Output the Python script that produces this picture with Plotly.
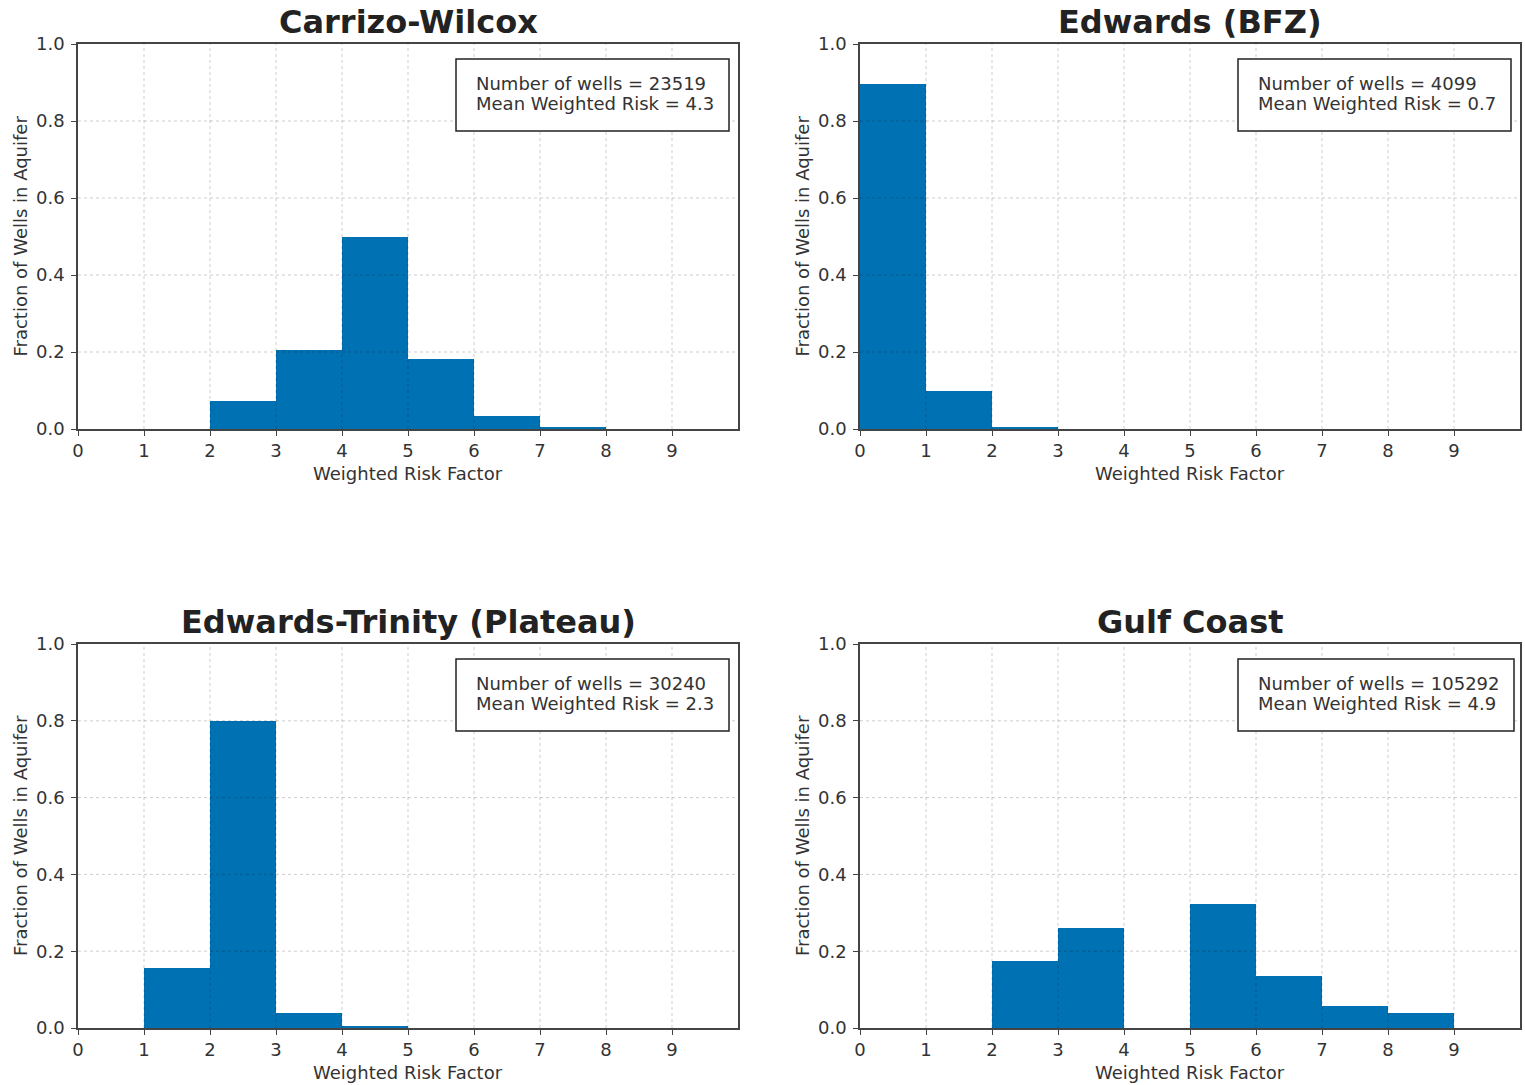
import plotly.graph_objects as go

# ---------------- data ----------------
bin_edges = [0, 1, 2, 3, 4, 5, 6, 7, 8, 9, 10]
x_ticks = [0, 1, 2, 3, 4, 5, 6, 7, 8, 9]
y_ticks = [0.0, 0.2, 0.4, 0.6, 0.8, 1.0]

aquifers = ["Carrizo-Wilcox", "Edwards (BFZ)", "Edwards-Trinity (Plateau)", "Gulf Coast"]
n_wells = [23519, 4099, 30240, 105292]
mean_risk = [4.3, 0.7, 2.3, 4.9]

carrizo_wilcox = [0.0, 0.0, 0.073, 0.205, 0.499, 0.182, 0.033, 0.006, 0.0, 0.0]
edwards_bfz = [0.895, 0.099, 0.004, 0.0, 0.0, 0.0, 0.0, 0.0, 0.0, 0.0]
edwards_trinity = [0.0, 0.155, 0.799, 0.038, 0.004, 0.0, 0.0, 0.0, 0.0, 0.0]
gulf_coast = [0.0, 0.0, 0.174, 0.261, 0.0, 0.324, 0.136, 0.057, 0.040, 0.0]

fractions = [carrizo_wilcox, edwards_bfz, edwards_trinity, gulf_coast]

# ---------------- layout constants ----------------
W, H = 1525, 1085
PW = 660
panels = [(78, 44, 385), (860, 44, 385), (78, 644, 384), (860, 644, 384)]  # left, top, height px
box_right = [651, 651, 651, 654]  # stats-box right edge inside panel (px)
BOX_LEFT, BOX_TOP, BOX_BOTTOM = 378, 15, 87
TEXT_LEFT, LINE1, LINE2 = 396, 39, 59
BAR_COLOR = "#0071b2"
FONT = "DejaVu Sans"
TEXT = "#333333"
AXIS = "#444444"
GRID = "rgba(0,0,0,0.2)"

fig = go.Figure()

centers = [(a + b) / 2 for a, b in zip(bin_edges[:-1], bin_edges[1:])]
widths = [b - a for a, b in zip(bin_edges[:-1], bin_edges[1:])]

layout = dict(
    template="none",
    width=W, height=H,
    margin=dict(l=0, r=0, t=0, b=0, pad=0, autoexpand=False),
    paper_bgcolor="white", plot_bgcolor="white",
    showlegend=False, bargap=0,
    font=dict(family=FONT, color=TEXT, size=18),
)
annotations = []
shapes = []

for i, (name, vals) in enumerate(zip(aquifers, fractions)):
    k = "" if i == 0 else str(i + 1)
    left, top, ph = panels[i]
    fig.add_trace(go.Bar(
        x=centers, y=vals, width=widths,
        marker=dict(color=BAR_COLOR, line=dict(width=0)),
        xaxis="x" + k, yaxis="y" + k,
    ))
    xd = [left / W, (left + PW) / W]
    yd = [1 - (top + ph) / H, 1 - top / H]
    common = dict(
        showline=True, linecolor=AXIS, linewidth=1.5, mirror=True,
        showgrid=False, automargin=False,
        ticks="outside", ticklen=5, tickwidth=1.2, tickcolor=AXIS,
        tickfont=dict(family=FONT, size=18, color=TEXT),
        zeroline=False, layer="above traces", fixedrange=True,
    )
    layout["xaxis" + k] = dict(
        domain=xd, range=[0, 10], tickvals=x_ticks, anchor="y" + k,
        ticklabelstandoff=0, **common
    )
    layout["yaxis" + k] = dict(
        domain=yd, range=[0, 1.0], tickvals=y_ticks, tickformat=".1f",
        anchor="x" + k, ticklabelstandoff=3, **common
    )
    xdom, ydom = "x" + k + " domain", "y" + k + " domain"
    # dotted grid drawn above the bars (matplotlib style)
    for t in x_ticks[1:]:
        shapes.append(dict(type="line", xref="x" + k, yref=ydom,
                           x0=t, x1=t, y0=0, y1=1, layer="above",
                           line=dict(color=GRID, width=1, dash="dot")))
    for t in y_ticks[1:-1]:
        shapes.append(dict(type="line", xref=xdom, yref="y" + k,
                           x0=0, x1=1, y0=t, y1=t, layer="above",
                           line=dict(color=GRID, width=1, dash="dot")))
    # title
    annotations.append(dict(
        text="<b>" + name + "</b>", xref="paper", yref="paper",
        x=(left + PW / 2) / W, y=1 - (top - 1) / H,
        xanchor="center", yanchor="bottom", showarrow=False,
        font=dict(family=FONT, size=32, color="#222222"),
    ))
    # x axis title
    annotations.append(dict(
        text="Weighted Risk Factor", xref="paper", yref="paper",
        x=(left + PW / 2) / W, y=1 - (top + ph + 32) / H,
        xanchor="center", yanchor="top", showarrow=False,
        font=dict(family=FONT, size=18, color=TEXT),
    ))
    # y axis title
    annotations.append(dict(
        text="Fraction of Wells in Aquifer", xref="paper", yref="paper",
        x=(left - 58) / W, y=1 - (top + ph / 2) / H, textangle=-90,
        xanchor="center", yanchor="middle", showarrow=False,
        font=dict(family=FONT, size=18, color=TEXT),
    ))
    # stats box
    shapes.append(dict(
        type="rect", xref=xdom, yref=ydom,
        x0=BOX_LEFT / PW, x1=box_right[i] / PW,
        y0=1 - BOX_BOTTOM / ph, y1=1 - BOX_TOP / ph, layer="above",
        line=dict(color="#222222", width=1.5), fillcolor="white",
    ))
    for line_y, txt in ((LINE1, f"Number of wells = {n_wells[i]}"),
                        (LINE2, f"Mean Weighted Risk = {mean_risk[i]}")):
        annotations.append(dict(
            text=txt, xref=xdom, yref=ydom,
            x=TEXT_LEFT / PW, y=1 - line_y / ph,
            xanchor="left", yanchor="middle", align="left", showarrow=False,
            font=dict(family=FONT, size=18, color=TEXT),
        ))

layout["annotations"] = annotations
layout["shapes"] = shapes
fig.update_layout(**layout)
fig.write_html(
    "out.html",
    config={"displayModeBar": False},
    post_script="document.body.style.margin='0';document.body.style.overflow='hidden';",
)
